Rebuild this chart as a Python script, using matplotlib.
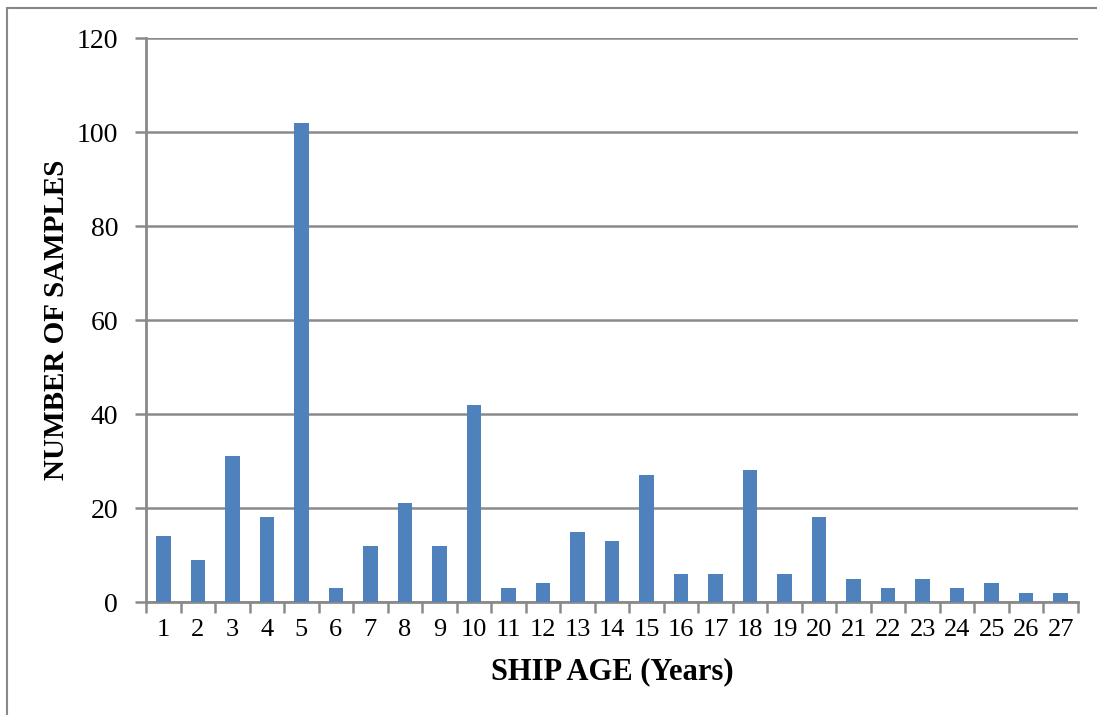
import numpy as np
import matplotlib.pyplot as plt
from matplotlib.patches import Rectangle

ages = list(range(1, 28))
samples = [14, 9, 31, 18, 102, 3, 12, 21, 12, 42, 3, 4, 15, 13, 27,
           6, 6, 28, 6, 18, 5, 3, 5, 3, 4, 2, 2]
y_ticks = [0, 20, 40, 60, 80, 100, 120]

W, H = 1097, 715
plt.rcParams['font.family'] = ['Liberation Serif', 'DejaVu Serif']
fig = plt.figure(figsize=(W / 100, H / 100), dpi=100)

# outer chart border (clipped at right and bottom in the original)
fig.patches.append(Rectangle((7 / W, -0.1), 1.2, (H - 8) / H + 0.1,
                             transform=fig.transFigure, fill=False,
                             edgecolor='#888888', lw=1.5, zorder=0))

ax = fig.add_axes([146 / W, 1 - 602 / H, (1078 - 146) / W, (602 - 38) / H])
grid_c = '#8a8a8a'

x = np.arange(len(ages))
ax.bar(x, samples, width=0.42, color='#4F81BD', zorder=3)

ax.set_xlim(-0.5, len(ages) - 0.5)
ax.set_ylim(0, 120)
ax.set_yticks(y_ticks)
ax.set_yticklabels([str(v) for v in y_ticks], fontsize=20)
ax.set_xticks(x)
ax.set_xticklabels([str(a) for a in ages], fontsize=19)
ax.set_xticks(np.arange(-0.5, len(ages)), minor=True)
ax.tick_params(axis='x', which='major', length=0, pad=12)
ax.tick_params(axis='x', which='minor', length=8, width=1.8, color=grid_c)
ax.tick_params(axis='y', length=8, width=1.8, color=grid_c, pad=12)

ax.yaxis.grid(True, color=grid_c, lw=1.8, zorder=0)
ax.set_axisbelow(True)
for s in ['top', 'right']:
    ax.spines[s].set_visible(False)
for s in ['left', 'bottom']:
    ax.spines[s].set_color(grid_c)
    ax.spines[s].set_linewidth(2)

ax.set_xlabel('SHIP AGE (Years)', fontsize=22, fontweight='bold', labelpad=12)
ax.set_ylabel('NUMBER OF SAMPLES', fontsize=21, fontweight='bold', labelpad=5)

fig.savefig('out.png', dpi=100)
